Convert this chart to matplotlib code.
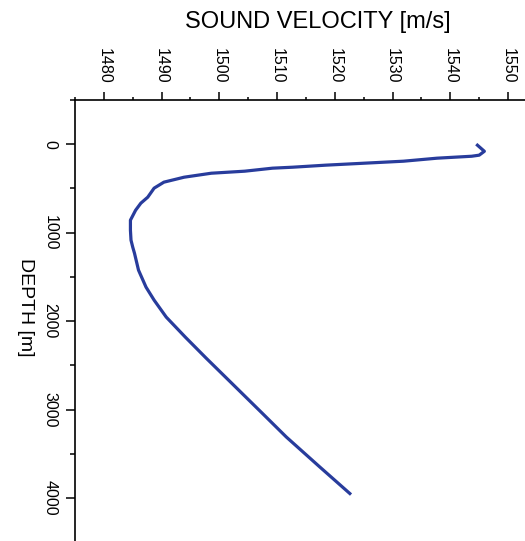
import matplotlib
matplotlib.use("Agg")
import matplotlib.pyplot as plt
from matplotlib.ticker import MultipleLocator

plt.rcParams['font.family'] = ['Liberation Sans', 'DejaVu Sans']

# sound velocity profile
vitesse = [1544.7, 1545.9, 1545.0, 1543.7, 1537.7, 1531.9, 1518.4, 1512.7, 1509.2,
           1504.4, 1498.6, 1493.9, 1490.4, 1488.7, 1487.6, 1486.4, 1485.5, 1484.6,
           1484.6, 1484.7, 1485.0, 1485.3, 1486.0, 1487.3, 1488.7, 1490.8, 1494.1,
           1497.7, 1502.1, 1507.4, 1511.6, 1517.4, 1522.6]
profondeur = [11, 80, 124, 136, 158, 192, 237, 260, 271,
              305, 328, 373, 429, 497, 599, 667, 746, 859,
              972, 1085, 1164, 1232, 1424, 1616, 1763, 1955, 2181,
              2418, 2700, 3040, 3311, 3650, 3950]

fig = plt.figure(figsize=(5.25, 5.41), dpi=100)
ax = fig.add_axes([75/525, 1 - 551/541, 485/525, 451/541])

ax.plot(vitesse, profondeur, color='#283c9c', lw=2.3)

ax.set_xlim(1475, 1559)
ax.set_ylim(4600, -500)

ax.xaxis.set_major_locator(MultipleLocator(10))
ax.xaxis.set_minor_locator(MultipleLocator(5))
ax.yaxis.set_major_locator(MultipleLocator(1000))
ax.yaxis.set_minor_locator(MultipleLocator(500))

ax.xaxis.tick_top()
ax.spines['right'].set_visible(False)
ax.spines['bottom'].set_visible(False)
for s in ['top', 'left']:
    ax.spines[s].set_linewidth(1.2)

ax.tick_params(axis='x', which='major', length=6, width=1.1, pad=6, labelsize=11.5, labelrotation=-90)
ax.tick_params(axis='x', which='minor', length=2.5, width=1.1)
ax.tick_params(axis='y', which='major', length=6.5, width=1.1, pad=6, labelsize=11.5, labelrotation=-90)
ax.tick_params(axis='y', which='minor', length=3.5, width=1.1)
for lab in ax.get_yticklabels():
    lab.set_verticalalignment('center')

ax.xaxis.set_label_position('top')
ax.set_xlabel("SOUND VELOCITY [m/s]", fontsize=17)
ax.xaxis.set_label_coords(0.5, 1 + 78/451)
ax.xaxis.label.set_verticalalignment('center')

ax.set_ylabel("DEPTH [m]", fontsize=14, rotation=-90)
ax.yaxis.set_label_coords(-50/485, (551 - 307)/451)
ax.yaxis.label.set_verticalalignment('center')
ax.yaxis.label.set_horizontalalignment('center')

fig.savefig("out.png", dpi=100)
